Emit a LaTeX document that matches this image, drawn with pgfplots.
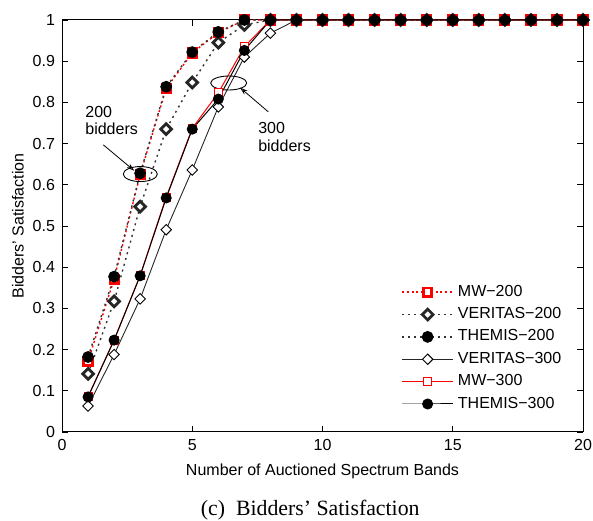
\documentclass[border=0pt]{standalone}
\usepackage{fontspec}
\setmainfont{Liberation Sans}
\newfontfamily\capfont{Liberation Serif}
\usepackage{pgfplots}
\pgfplotsset{compat=1.18}
\usetikzlibrary{arrows.meta}

\begin{document}
\begin{tikzpicture}
\begin{axis}[
  scale only axis,
  width=260.5pt, height=206pt,
  xmin=0, xmax=20, ymin=0, ymax=1,
  xtick={0,5,10,15,20},
  ytick={0,0.1,0.2,0.3,0.4,0.5,0.6,0.7,0.8,0.9,1},
  yticklabels={0,0.1,0.2,0.3,0.4,0.5,0.6,0.7,0.8,0.9,1},
  /pgf/number format/assume math mode=true,
  tick label style={font=\fontsize{8}{9}\selectfont},
  label style={font=\fontsize{8}{9}\selectfont},
  major tick length=3pt,
  tick style={black, line width=0.4pt},
  axis line style={line width=0.5pt},
  xlabel={Number of Auctioned Spectrum Bands},
  ylabel={Bidders’ Satisfaction},
  ylabel style={at={(axis description cs:-0.0845,0.5)}, anchor=center},
  clip=false,
  legend style={draw=none, fill=none, font=\fontsize{8}{9}\selectfont,
    at={(rel axis cs:0.639,0.377)}, anchor=north west, row sep=0.1pt,
    cells={anchor=west}},
  legend image code/.code={\draw[mark repeat=2,mark phase=2,#1] plot coordinates {(0cm,0cm) (0.45cm,0cm) (0.9cm,0cm)};},
]
% 200 bidders
\addplot[red, line width=0.7pt, dash pattern=on 1pt off 1.4pt,
  mark=square*, mark size=2.1pt,
  mark options={solid, line width=1.4pt, draw=red, fill=white}]
  coordinates {(1,0.172)(2,0.371)(3,0.625)(4,0.834)(5,0.920)(6,0.969)(7,1)(8,1)(9,1)(10,1)(11,1)(12,1)(13,1)(14,1)(15,1)(16,1)(17,1)(18,1)(19,1)(20,1)};
\addlegendentry{MW−200}
\addplot[black!80, line width=0.7pt, dash pattern=on 1pt off 2pt,
  mark=square*, mark size=1.9pt,
  mark options={solid, rotate=45, line width=1.4pt, draw=black!85, fill=white}]
  coordinates {(1,0.141)(2,0.317)(3,0.547)(4,0.735)(5,0.848)(6,0.945)(7,0.988)(8,1)(9,1)(10,1)(11,1)(12,1)(13,1)(14,1)(15,1)(16,1)(17,1)(18,1)(19,1)(20,1)};
\addlegendentry{VERITAS−200}
\addplot[black!80, line width=0.7pt, dash pattern=on 1pt off 2pt,
  mark=*, mark size=2.6pt,
  mark options={solid, draw=black, fill=black}]
  coordinates {(1,0.182)(2,0.377)(3,0.628)(4,0.838)(5,0.922)(6,0.971)(7,1)(8,1)(9,1)(10,1)(11,1)(12,1)(13,1)(14,1)(15,1)(16,1)(17,1)(18,1)(19,1)(20,1)};
\addlegendentry{THEMIS−200}
% 300 bidders
\addplot[black!85, line width=0.45pt,
  mark=square*, mark size=1.85pt,
  mark options={solid, rotate=45, line width=0.45pt, draw=black, fill=white}]
  coordinates {(1,0.063)(2,0.188)(3,0.323)(4,0.491)(5,0.636)(6,0.789)(7,0.910)(8,0.968)(9,1)(10,1)(11,1)(12,1)(13,1)(14,1)(15,1)(16,1)(17,1)(18,1)(19,1)(20,1)};
\addlegendentry{VERITAS−300}
\addplot[red, line width=0.5pt,
  mark=square*, mark size=2pt,
  mark options={solid, line width=0.5pt, draw=red, fill=white}]
  coordinates {(1,0.086)(2,0.223)(3,0.380)(4,0.570)(5,0.737)(6,0.823)(7,0.935)(8,1)(9,1)(10,1)(11,1)(12,1)(13,1)(14,1)(15,1)(16,1)(17,1)(18,1)(19,1)(20,1)};
\addlegendentry{MW−300}
\addplot[black, line width=0.5pt,
  mark=*, mark size=2.5pt,
  mark options={solid, draw=black, fill=black}]
  coordinates {(1,0.085)(2,0.223)(3,0.379)(4,0.568)(5,0.735)(6,0.808)(7,0.926)(8,1)(9,1)(10,1)(11,1)(12,1)(13,1)(14,1)(15,1)(16,1)(17,1)(18,1)(19,1)(20,1)};
\addlegendentry{THEMIS−300}
% annotations
\draw[line width=0.45pt] (axis cs:3.006,0.626) ellipse [x radius=8.5pt, y radius=3.75pt];
\draw[line width=0.45pt] (axis cs:6.40,0.847) ellipse [x radius=9pt, y radius=3.5pt];
\draw[line width=0.4pt, -{Stealth[length=4pt,width=2.5pt,open]}] (axis cs:1.585,0.697) -- (axis cs:2.776,0.634);
\draw[line width=0.4pt, -{Stealth[length=4pt,width=2.5pt,open]}] (axis cs:7.92,0.777) -- (axis cs:6.83,0.836);
\node[anchor=north west, inner sep=0pt, align=left, font=\fontsize{8}{8.8}\selectfont]
  at (axis cs:0.883,0.792) {200\\bidders};
\node[anchor=north west, inner sep=0pt, align=left, font=\fontsize{8}{8.8}\selectfont]
  at (axis cs:7.52,0.752) {300\\bidders};
\coordinate (bbll) at (rel axis cs:-0.119,-0.216);
\coordinate (bbur) at (rel axis cs:1.0192,1.0485);
\coordinate (cap) at (rel axis cs:0.4765,-0.189);
\end{axis}
\node[font=\capfont\fontsize{10.9}{12}\selectfont] at (cap) {(c)\ \ Bidders’ Satisfaction};
\pgfresetboundingbox
\path[use as bounding box] (bbll) rectangle (bbur);
\end{tikzpicture}
\end{document}
